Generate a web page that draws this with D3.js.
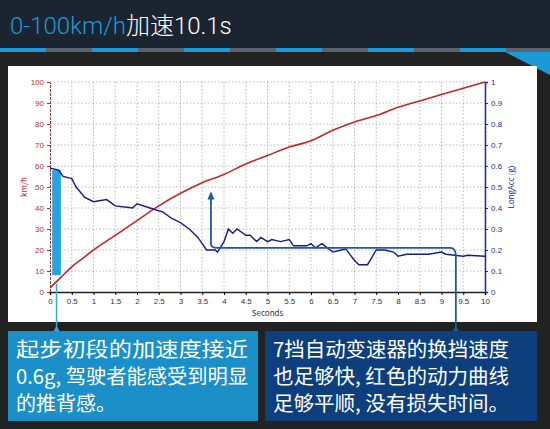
<!DOCTYPE html>
<html><head><meta charset="utf-8">
<script src="https://cdn.jsdelivr.net/npm/d3@7"></script>
<style>body{margin:0;background:#222;font-family:"Noto Sans CJK SC",Arial,sans-serif}</style>
</head><body>
<svg id="c" width="550" height="429"></svg>
<script>
// speed (km/h) vs time
let speedT = [0,0.25,0.5,0.75,1,1.5,2,2.5,3,3.5,4,4.5,5,5.5,6,6.5,7,7.5,8,8.5,9,9.5,10]
let speedV = [2,7,12,16,20,27,34,41,47,52,56,61,65,69,72,77,81,84,88,91,94,97,100]
// longitudinal acceleration (g)
let accT = [0,0.2,0.3,0.5,0.6,0.8,1,1.3,1.5,1.9,2,2.3,2.6,2.8,3,3.2,3.4,3.6,3.8,3.85,4,4.1,4.2,4.3,4.5,4.6,4.75,4.85,5,5.1,5.3,5.5,5.6,5.9,6,6.1,6.25,6.5,6.6,6.8,7,7.1,7.3,7.5,7.7,7.9,8,8.2,8.5,8.7,9,9.1,9.5,9.6,10]
let accV = [0.59,0.58,0.55,0.54,0.5,0.45,0.43,0.44,0.41,0.4,0.42,0.4,0.38,0.35,0.33,0.3,0.26,0.2,0.2,0.19,0.24,0.3,0.28,0.3,0.27,0.27,0.24,0.26,0.24,0.25,0.24,0.25,0.22,0.22,0.23,0.21,0.23,0.19,0.195,0.205,0.15,0.13,0.13,0.2,0.2,0.19,0.17,0.18,0.18,0.18,0.19,0.18,0.17,0.175,0.17]
let xTicks = d3.range(0, 10.01, 0.5)
let leftTicks = d3.range(0, 101, 10)
let rightTicks = d3.range(0, 1.01, 0.1)

const svg = d3.select('#c')
svg.append('rect').attr('width',550).attr('height',52).attr('fill','#1b2531')
// dashed stripe
for (let i = 0; i < 12; i++) {
  svg.append('rect').attr('x', i*46).attr('y',48).attr('width',46).attr('height',4)
    .attr('fill', i%2 ? '#5a6470' : '#1a9ad6')
}
svg.append('path').attr('d','M505,52 L550,52 L550,75 Z').attr('fill','#1a9ad6')
const title = svg.append('text').attr('x',10).attr('y',34).attr('font-size',24).attr('font-weight',300).attr('font-family','Roboto,"Noto Sans CJK SC"')
title.append('tspan').attr('fill','#1a9ad6').text('0-100km/h')
title.append('tspan').attr('fill','#fff').text('加速10.1s')

svg.append('rect').attr('x',8).attr('y',66).attr('width',529).attr('height',256).attr('fill','#fff')

const x = d3.scaleLinear().domain([0,10]).range([50,485])
const yL = d3.scaleLinear().domain([0,100]).range([292,82])
const yR = d3.scaleLinear().domain([0,1]).range([292,82])

const grid = svg.append('g').attr('stroke','#aaa').attr('stroke-dasharray','1.5,2').attr('stroke-width',0.8)
xTicks.slice(1).forEach(t => grid.append('line').attr('x1',x(t)).attr('x2',x(t)).attr('y1',82).attr('y2',292))
leftTicks.slice(1).forEach(t => grid.append('line').attr('x1',50).attr('x2',485).attr('y1',yL(t)).attr('y2',yL(t)))

const fs = 8
svg.append('g').attr('transform','translate(0,292)')
  .call(d3.axisBottom(x).tickValues(xTicks).tickSize(3).tickFormat(d3.format('')))
  .call(g => { g.selectAll('text').attr('font-size',fs).attr('fill','#333'); g.select('.domain').attr('stroke','#222').attr('stroke-width',1.5) })
svg.append('g').attr('transform','translate(50,0)')
  .call(d3.axisLeft(yL).tickValues(leftTicks).tickSize(3))
  .call(g => { g.selectAll('text').attr('font-size',fs).attr('fill','#b03030'); g.select('.domain').attr('stroke','#b03030').attr('stroke-dasharray','3,1'); g.selectAll('.tick line').attr('stroke','#b03030') })
svg.append('g').attr('transform','translate(485,0)')
  .call(d3.axisRight(yR).tickValues(rightTicks).tickSize(3).tickFormat(d => d===0||d===1 ? d3.format('d')(d) : d3.format('.1f')(d)))
  .call(g => { g.selectAll('text').attr('font-size',fs).attr('fill','#2a2a90'); g.select('.domain').attr('stroke','#2a2a90').attr('stroke-width',1.5); g.selectAll('.tick line').attr('stroke','#2a2a90') })

svg.append('text').attr('x',x(5)).attr('y',316).attr('text-anchor','middle').attr('font-size',8).attr('fill','#333').text('Seconds')
svg.append('text').attr('transform','translate(27,187) rotate(-90)').attr('text-anchor','middle').attr('font-size',8).attr('fill','#b03030').text('km/h')
svg.append('text').attr('transform','translate(514,187) rotate(-90)').attr('text-anchor','middle').attr('font-size',8).attr('fill','#2a2a90').text('LongAcc (g)')

// annotation rectangle
svg.append('rect').attr('x',x(0.05)).attr('y',yL(58)).attr('width',x(0.25)-x(0.05)).attr('height',yL(8)-yL(58)).attr('fill','#29a3dc')

const speedData = speedT.map((t,i)=>[t,speedV[i]])
const accData = accT.map((t,i)=>[t,accV[i]])
svg.append('path').datum(speedData).attr('fill','none').attr('stroke','#c0282a').attr('stroke-width',1.6)
  .attr('d', d3.line().x(d=>x(d[0])).y(d=>yL(d[1])).curve(d3.curveMonotoneX))
svg.append('path').datum(accData).attr('fill','none').attr('stroke','#1a1a8a').attr('stroke-width',1.4)
  .attr('d', d3.line().x(d=>x(d[0])).y(d=>yR(d[1])))

// pointers
svg.append('line').attr('x1',x(0.15)).attr('x2',x(0.15)).attr('y1',yL(4)).attr('y2',330).attr('stroke','#3aa8dc').attr('stroke-width',1.5)
svg.append('path').attr('d',`M${x(0.15)-3},331 L${x(0.15)+3},331 L${x(0.15)},326 Z`).attr('fill','#3aa8dc')
const c2 = '#1d5aa0'
svg.append('path').attr('fill','none').attr('stroke',c2).attr('stroke-width',1.8)
  .attr('d',`M${x(3.7)},${yR(0.45)} L${x(3.7)},${yR(0.23)} Q${x(3.7)},${yR(0.21)} ${x(3.85)},${yR(0.21)} L${x(9.2)},${yR(0.21)} Q${x(9.33)},${yR(0.21)} ${x(9.33)},${yR(0.17)} L${x(9.33)},328`)
svg.append('path').attr('d',`M${x(3.7)-3.5},${yR(0.44)} L${x(3.7)+3.5},${yR(0.44)} L${x(3.7)},${yR(0.48)} Z`).attr('fill',c2)
svg.append('path').attr('d',`M${x(9.33)-3},331 L${x(9.33)+3},331 L${x(9.33)},326 Z`).attr('fill',c2)

// text boxes
svg.append('rect').attr('x',8).attr('y',331).attr('width',250).attr('height',90).attr('fill','#1a8fc8')
svg.append('rect').attr('x',265).attr('y',331).attr('width',272).attr('height',90).attr('fill','#0d3f7c')
const lines1 = ['起步初段的加速度接近','0.6g, 驾驶者能感受到明显','的推背感。']
const lines2 = ['7挡自动变速器的换挡速度','也足够快, 红色的动力曲线','足够平顺, 没有损失时间。']
lines1.forEach((s,i)=>svg.append('text').attr('x',16).attr('y',357+i*27).attr('font-size',20).attr('fill','#fff')
  .attr('textLength', i<2 ? 232 : null).attr('lengthAdjust','spacingAndGlyphs').text(s))
lines2.forEach((s,i)=>svg.append('text').attr('x',273).attr('y',357+i*27).attr('font-size',20).attr('fill','#fff')
  .attr('textLength', 236).attr('lengthAdjust','spacingAndGlyphs').text(s))
</script>
</body></html>
